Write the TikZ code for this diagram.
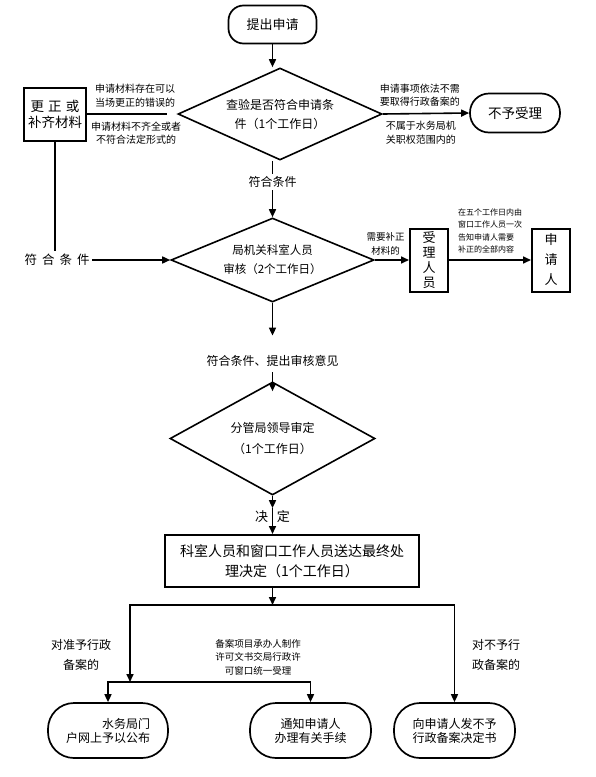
\documentclass[tikz,border=0pt]{standalone}
\usepackage{fontspec}
\setmainfont{Noto Sans CJK SC}
\usetikzlibrary{positioning, arrows.meta, shapes.geometric}

\begin{document}
\begin{tikzpicture}
	[x=1pt, y=-1pt, line width=1.6pt]

	\tikzstyle{startstop} = [rectangle, rounded corners=18pt, draw=black, line width=1.7pt, align=center, inner sep=0pt, font=\fontsize{13}{15}\selectfont]
	\tikzstyle{process} = [rectangle, draw=black, line width=2pt, align=center, inner sep=0pt, font=\fontsize{13.5}{16}\selectfont]
	\tikzstyle{decision} = [diamond, draw=black, line width=1.6pt, align=center, inner sep=0pt, font=\fontsize{12}{19}\selectfont]
	\tikzstyle{cond} = [align=center, inner sep=2pt, font=\fontsize{12}{20}\selectfont]
	\tikzstyle{note} = [align=center, inner sep=1pt, font=\fontsize{10}{13.5}\selectfont]
	\tikzstyle{arrow} = [line width=1.6pt, -{Triangle[length=8pt, width=7pt]}]

	\useasboundingbox (0,0) rectangle (596,777);

	% top part
	\node (start) [startstop, minimum width=88pt, minimum height=38pt, rounded corners=15pt] at (272.5,24.5) {提出申请};
	\node (check) [decision, minimum width=204pt, minimum height=92pt, aspect=2.2] at (280,114) {查验是否符合申请条\\件（1个工作日）};
	\node (fix) [process, minimum width=62pt, minimum height=53pt] at (55,114) {更\hspace{0.3em}正\hspace{0.3em}或\\补齐材料};
	\node (reject) [startstop, minimum width=90pt, minimum height=39pt, rounded corners=19pt, font=\fontsize{13.5}{16}\selectfont] at (515,113) {不予受理};
	\node (ok1) [cond] at (272.5,182) {符合条件};

	% review
	\node (review) [decision, minimum width=203pt, minimum height=84pt, aspect=2.4, font=\fontsize{11.5}{19}\selectfont] at (272.5,260) {局机关科室人员\\审核（2个工作日）};
	\node (ok2) [cond, font=\fontsize{12.5}{15}\selectfont] at (57,260) {符\hspace{5pt}合\hspace{5pt}条\hspace{5pt}件};
	\node (clerk) [process, minimum width=38pt, minimum height=63pt, font=\fontsize{13}{15}\selectfont] at (429,260) {受\\理\\人\\员};
	\node (applicant) [process, minimum width=38pt, minimum height=63pt, font=\fontsize{13}{20}\selectfont] at (551,260) {申\\请\\人};
	\node (opinion) [cond] at (272.5,361) {符合条件、提出审核意见};

	% decision
	\node (leader) [decision, minimum width=205pt, minimum height=113pt, aspect=1.8, font=\fontsize{12}{21}\selectfont] at (272.5,438.5) {分管局领导审定\\（1个工作日）};
	\node (decide) [cond, font=\fontsize{13}{15}\selectfont] at (272.5,517) {决\hspace{9pt}定};
	\node (notify) [process, minimum width=254pt, minimum height=52pt, font=\fontsize{14}{20}\selectfont] at (292,561) {科室人员和窗口工作人员送达最终处\\理决定（1个工作日）};

	% results
	\node (publish) [startstop, minimum width=120pt, minimum height=55pt, rounded corners=26pt, align=right, font=\fontsize{12}{14}\selectfont] at (108,730.5) {水务局门\\户网上予以公布};
	\node (handle) [startstop, minimum width=121pt, minimum height=55pt, rounded corners=26pt, font=\fontsize{12}{14}\selectfont] at (310.5,730.5) {通知申请人\\办理有关手续};
	\node (refuse) [startstop, minimum width=121pt, minimum height=55pt, rounded corners=26pt, font=\fontsize{12}{14}\selectfont] at (454.5,730.5) {向申请人发不予\\行政备案决定书};

	\node (grant) [cond] at (81,655) {对准予行政\\备案的};
	\node (maker) [note, font=\fontsize{9.5}{13.5}\selectfont] at (258,657) {备案项目承办人制作\\许可文书交局行政许\\可窗口统一受理};
	\node (deny) [cond, align=left] at (496,655) {对不予行\\政备案的};

	\coordinate (split) at (272.5,605);
	\coordinate (join) at (130,682);

	\draw [arrow] (start.south) -- (start.south |- check.north);
	\draw (fix.east) -- node [note, above=5pt, xshift=8pt]{申请材料存在可以\\当场更正的错误的} node [note, below=6pt, xshift=9pt]{申请材料不齐全或者\\不符合法定形式的} ([xshift=-10pt]check.west);
	\draw [arrow] (check.east) -- node [note, above=5pt, xshift=-6pt]{申请事项依法不需\\要取得行政备案的} node [note, below=6pt, xshift=-5pt]{不属于水务局机\\关职权范围内的} (reject.west);
	\draw (ok1.north |- check.south) -- (ok1.north);
	\draw [arrow] (ok1.south) -- (review.north);
	\draw (fix.south) -- (fix.south |- ok2.north);
	\draw [arrow] (ok2.east) -- (review.west);
	\draw [arrow] (review.east) -- node [note, above=3pt, pos=0.32, font=\fontsize{9.5}{14}\selectfont]{需要补正\\材料的} (clerk.west);
	\draw [arrow] (clerk.east) -- node [note, above=5pt, align=left, font=\fontsize{8}{12.5}\selectfont]{在五个工作日内由\\窗口工作人员一次\\告知申请人需要\\补正的全部内容} (applicant.west);
	\draw [arrow] (review.south) -- ([yshift=17pt]opinion.north);
	\draw [arrow] ([yshift=-3pt]opinion.south) -- ([yshift=-10pt]leader.north);
	\draw [arrow] (leader.south) -- (decide.north);
	\draw [arrow] (decide.north) -- (decide.north |- notify.north);
	\draw [arrow] (split |- notify.south) -- (split);
	\draw [arrow] (split) -| (join);
	\draw [arrow] (split) -| (refuse.north);
	\draw [arrow] (join) -| (publish.north);
	\draw [arrow] (join) -| (handle.north);

\end{tikzpicture}
\end{document}
